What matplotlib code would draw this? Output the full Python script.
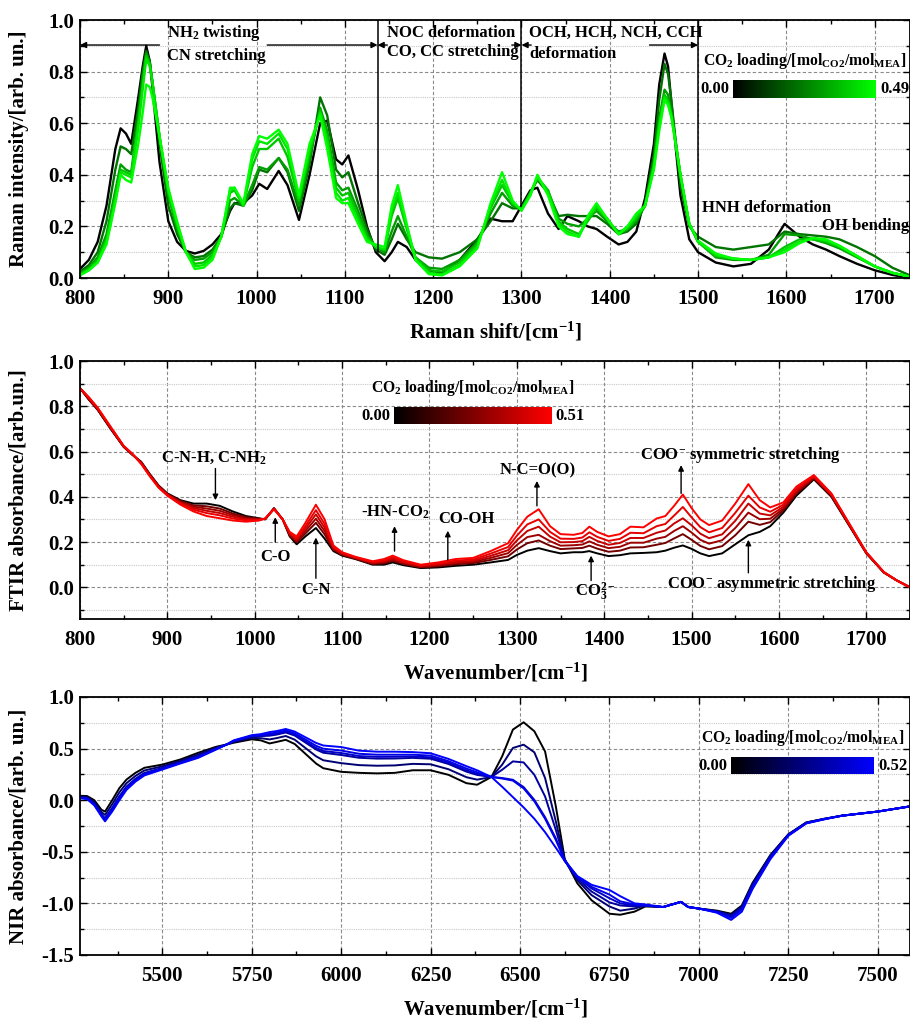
import numpy as np
import matplotlib.pyplot as plt
from matplotlib.colors import LinearSegmentedColormap
from matplotlib.ticker import MultipleLocator, FormatStrFormatter

plt.close("all")
plt.rcParams['font.family'] = ['Liberation Serif', 'DejaVu Serif']
plt.rcParams['font.weight'] = 'bold'
plt.rcParams['axes.labelweight'] = 'bold'
plt.rcParams['mathtext.fontset'] = 'custom'
plt.rcParams['mathtext.rm'] = 'Liberation Serif:bold'
plt.rcParams['mathtext.it'] = 'Liberation Serif:bold'
plt.rcParams['mathtext.bf'] = 'Liberation Serif:bold'
plt.rcParams['mathtext.default'] = 'rm'
plt.rcParams['axes.unicode_minus'] = False

# ---------------- Raman (6 spectra, loading 0.00 -> 0.49)
raman_x = [800, 810, 820, 830, 840, 846, 852, 858, 866, 871, 875, 879,
           882, 890, 900, 910, 920, 930, 940, 950, 960, 970,
           975, 985, 995, 1003, 1012, 1025, 1035, 1048, 1060, 1072,
           1080, 1090, 1097, 1104, 1115, 1125, 1135, 1145, 1153, 1160,
           1170, 1180, 1195, 1210, 1230, 1250, 1265, 1278, 1290, 1300,
           1310, 1318, 1330, 1342, 1352, 1365, 1375, 1385, 1397, 1410,
           1420, 1430, 1440, 1450, 1456, 1462, 1466, 1470, 1480, 1490, 1500, 1520,
           1540, 1560, 1580, 1598, 1615, 1630, 1645, 1660, 1680, 1700,
           1720, 1740]
raman_0 = [.035, .07, .14, .28, .50, .58, .56, .52, .70, .82, .90, .84,
           .74, .45, .22, .14, .105, .095, .105, .13, .17, .26,
           .29, .29, .32, .365, .345, .415, .36, .225, .40, .60,
           .61, .46, .44, .475, .34, .20, .10, .065, .10, .14,
           .12, .07, .03, .02, .07, .15, .23, .22, .22, .28,
           .34, .35, .25, .19, .24, .22, .20, .19, .16, .13,
           .14, .18, .31, .52, .75, .87, .82, .67, .32, .15, .10, .06,
           .045, .055, .11, .21, .16, .13, .11, .085, .055, .03,
           .012, .0]
raman_1 = [.025, .05, .10, .22, .42, .51, .50, .48, .66, .80, .88, .84,
           .76, .52, .28, .17, .10, .08, .085, .11, .16, .27,
           .29, .28, .34, .42, .41, .465, .41, .26, .44, .70,
           .63, .42, .39, .41, .29, .19, .11, .09, .15, .21,
           .15, .10, .08, .075, .10, .15, .22, .29, .27, .27,
           .33, .38, .33, .24, .245, .24, .24, .24, .21, .17,
           .18, .21, .29, .48, .69, .83, .79, .68, .36, .20, .16, .12,
           .11, .12, .13, .18, .17, .165, .16, .15, .12, .085,
           .04, .01]
raman_2 = [.02, .04, .08, .17, .34, .44, .42, .41, .62, .77, .87, .83,
           .76, .55, .32, .19, .10, .07, .075, .10, .16, .30,
           .31, .28, .36, .43, .42, .465, .42, .28, .46, .66,
           .57, .37, .34, .35, .26, .17, .12, .10, .18, .24,
           .16, .08, .04, .035, .07, .14, .25, .33, .28, .27,
           .33, .385, .34, .23, .21, .20, .23, .26, .22, .18,
           .19, .22, .28, .45, .62, .73, .71, .64, .40, .21, .14, .08,
           .07, .07, .09, .17, .165, .15, .135, .115, .08, .045,
           .02, .005]
raman_3 = [.015, .035, .07, .15, .32, .42, .41, .40, .60, .75, .86, .83,
           .76, .55, .33, .20, .10, .055, .06, .09, .16, .33,
           .34, .28, .43, .50, .50, .54, .47, .30, .48, .65,
           .55, .35, .32, .33, .24, .16, .12, .11, .24, .31,
           .19, .08, .03, .025, .06, .13, .27, .36, .29, .265,
           .33, .39, .34, .22, .19, .17, .22, .27, .23, .17,
           .19, .23, .28, .44, .60, .71, .69, .63, .40, .21, .14, .085,
           .075, .07, .08, .12, .15, .15, .14, .12, .085, .045,
           .02, .005]
raman_4 = [.012, .03, .06, .14, .30, .41, .40, .39, .58, .73, .85, .82,
           .76, .55, .34, .21, .10, .045, .05, .08, .16, .34,
           .35, .28, .46, .53, .52, .56, .50, .31, .50, .64,
           .53, .33, .30, .31, .22, .15, .12, .11, .26, .33,
           .20, .07, .02, .015, .05, .12, .28, .38, .29, .265,
           .32, .395, .33, .21, .18, .16, .23, .28, .23, .17,
           .20, .24, .28, .43, .59, .70, .68, .62, .40, .21, .14, .09,
           .075, .07, .08, .11, .14, .155, .145, .125, .085, .045,
           .02, .005]
raman_5 = [.01, .03, .06, .13, .29, .40, .38, .37, .52, .64, .75, .74,
           .70, .55, .35, .22, .10, .035, .04, .07, .16, .35,
           .35, .29, .48, .55, .54, .575, .52, .32, .52, .63,
           .50, .31, .29, .29, .21, .14, .13, .12, .28, .36,
           .21, .07, .015, .01, .045, .115, .29, .41, .30, .26,
           .32, .40, .32, .20, .17, .16, .24, .29, .23, .17,
           .20, .25, .28, .42, .57, .69, .67, .62, .40, .21, .145, .095,
           .075, .07, .08, .10, .135, .155, .15, .125, .085, .045,
           .02, .005]

# ---------------- FTIR (6 spectra, loading 0.00 -> 0.51)
ftir_x = [800, 810, 820, 835, 850, 860, 870, 880, 890, 900,
          915, 930, 945, 960, 975, 990, 1005, 1012, 1022, 1032,
          1040, 1048, 1058, 1070, 1080, 1090, 1100, 1115, 1135, 1148,
          1158, 1170, 1190, 1210, 1230, 1250, 1270, 1290, 1300, 1312,
          1325, 1338, 1350, 1365, 1375, 1383, 1392, 1405, 1418, 1430,
          1445, 1460, 1470, 1480, 1490, 1500, 1510, 1520, 1535, 1550,
          1565, 1578, 1590, 1605, 1620, 1640, 1660, 1680, 1700, 1720,
          1735, 1750]
ftir_0 = [.88, .83, .785, .70, .62, .585, .555, .50, .45, .415,
          .385, .37, .37, .36, .335, .315, .305, .30, .35, .30,
          .225, .19, .225, .262, .215, .16, .14, .125, .10, .10,
          .11, .098, .085, .088, .095, .10, .11, .121, .143, .162,
          .173, .16, .15, .155, .155, .16, .15, .138, .142, .15,
          .152, .155, .162, .175, .185, .17, .15, .138, .15, .19,
          .23, .245, .27, .33, .405, .477, .40, .275, .15, .065,
          .03, .0]
ftir_1 = [.88, .83, .787, .702, .621, .586, .553, .498, .448, .413,
          .381, .362, .358, .348, .326, .31, .303, .301, .349, .30,
          .229, .198, .238, .285, .234, .166, .143, .127, .103, .106,
          .117, .103, .088, .093, .102, .107, .121, .137, .167, .195,
          .207, .184, .169, .172, .174, .184, .171, .157, .162, .176,
          .177, .188, .196, .216, .235, .21, .183, .168, .182, .23,
          .29, .276, .288, .34, .414, .481, .403, .277, .151, .066,
          .03, .0]
ftir_2 = [.88, .835, .789, .704, .622, .587, .551, .496, .446, .411,
          .377, .356, .348, .338, .319, .305, .301, .302, .348, .30,
          .233, .204, .249, .303, .249, .17, .146, .129, .106, .11,
          .122, .107, .091, .097, .107, .112, .13, .151, .187, .222,
          .232, .204, .184, .186, .189, .203, .188, .173, .179, .197,
          .197, .215, .223, .249, .27, .242, .21, .193, .208, .262,
          .33, .301, .303, .348, .421, .485, .406, .279, .152, .066,
          .03, .0]
ftir_3 = [.88, .835, .791, .706, .623, .588, .549, .494, .444, .409,
          .373, .35, .338, .328, .312, .30, .299, .303, .347, .30,
          .237, .21, .26, .322, .264, .175, .149, .131, .109, .115,
          .127, .111, .094, .101, .112, .117, .139, .164, .207, .249,
          .268, .224, .199, .20, .204, .223, .205, .188, .196, .218,
          .218, .241, .251, .282, .305, .274, .237, .217, .234, .294,
          .37, .326, .318, .356, .428, .488, .409, .281, .153, .067,
          .03, .0]
ftir_4 = [.88, .84, .793, .708, .624, .589, .547, .492, .442, .407,
          .37, .343, .328, .318, .304, .296, .297, .304, .346, .30,
          .24, .217, .271, .341, .28, .179, .152, .133, .112, .119,
          .133, .115, .097, .105, .118, .123, .149, .178, .228, .278,
          .30, .245, .215, .214, .22, .243, .223, .205, .214, .241,
          .239, .27, .28, .317, .355, .309, .266, .243, .262, .329,
          .405, .353, .334, .365, .436, .492, .412, .283, .154, .067,
          .03, .0]
ftir_5 = [.88, .84, .795, .71, .625, .59, .545, .49, .44, .405,
          .365, .335, .315, .305, .295, .29, .295, .305, .345, .30,
          .245, .225, .285, .365, .30, .185, .155, .135, .115, .125,
          .14, .12, .10, .11, .125, .13, .16, .195, .253, .312,
          .345, .27, .235, .232, .24, .268, .245, .225, .235, .268,
          .265, .304, .315, .36, .41, .35, .30, .275, .295, .37,
          .456, .385, .353, .375, .445, .496, .415, .285, .155, .068,
          .03, .0]

# ---------------- NIR (6 spectra, loading 0.00 -> 0.52)
nir_x = [5270, 5290, 5310, 5330, 5340, 5360, 5380, 5400, 5425, 5450,
         5500, 5550, 5600, 5650, 5680, 5700, 5750, 5775, 5800, 5820,
         5845, 5870, 5900, 5930, 5950, 6000, 6050, 6100, 6150, 6200,
         6250, 6300, 6350, 6380, 6420, 6450, 6480, 6510, 6540, 6570,
         6600, 6625, 6660, 6700, 6750, 6780, 6820, 6850, 6900, 6950,
         6970, 7000, 7050, 7090, 7120, 7150, 7200, 7250, 7300, 7350,
         7400, 7500, 7590]
nir_0 = [.043, .04, .0, -.093, -.11, .0, .117, .2, .265, .314,
         .345, .394, .459, .517, .54, .557, .59, .58, .55, .565,
         .585, .545, .45, .355, .31, .275, .265, .26, .265, .29,
         .29, .246, .165, .15, .225, .425, .684, .755, .668, .472,
         -.06, -.57, -.805, -.97, -1.10, -1.11, -1.08, -1.03, -1.035, -.985,
         -1.035, -1.05, -1.07, -1.10, -1.02, -.80, -.53, -.33, -.215, -.18,
         -.15, -.11, -.06]
nir_1 = [.035, .03, -.018, -.115, -.143, -.039, .076, .165, .235, .288,
         .328, .38, .442, .508, .54, .565, .604, .601, .589, .602,
         .622, .587, .506, .425, .387, .359, .34, .334, .337, .352,
         .348, .30, .223, .199, .225, .344, .506, .538, .464, .214,
         -.205, -.585, -.775, -.92, -1.03, -1.07, -1.05, -1.02, -1.035, -.985,
         -1.035, -1.05, -1.075, -1.11, -1.03, -.81, -.535, -.332, -.217, -.181,
         -.15, -.11, -.06]
nir_2 = [.027, .02, -.034, -.137, -.175, -.075, .037, .132, .207, .264,
         .312, .367, .426, .499, .54, .573, .617, .621, .625, .636,
         .656, .627, .559, .491, .46, .438, .411, .403, .404, .41,
         .402, .351, .277, .245, .225, .295, .376, .366, .246, .036,
         -.288, -.585, -.76, -.885, -.99, -1.02, -1.03, -1.02, -1.035, -.985,
         -1.035, -1.05, -1.08, -1.12, -1.04, -.82, -.545, -.335, -.219, -.182,
         -.15, -.11, -.06]
nir_3 = [.026, .017, -.038, -.142, -.182, -.084, .028, .124, .2, .258,
         .309, .364, .422, .496, .54, .574, .62, .626, .634, .645,
         .665, .636, .572, .507, .477, .457, .428, .42, .421, .424,
         .415, .363, .29, .256, .225, .215, .198, .127, .003, -.165,
         -.37, -.58, -.745, -.855, -.95, -1.0, -1.02, -1.02, -1.035, -.985,
         -1.035, -1.05, -1.08, -1.13, -1.05, -.835, -.55, -.338, -.221, -.183,
         -.15, -.11, -.06]
nir_4 = [.023, .014, -.043, -.148, -.192, -.095, .016, .114, .192, .25,
         .304, .36, .417, .494, .54, .577, .624, .632, .645, .655,
         .675, .648, .588, .527, .499, .481, .45, .441, .441, .441,
         .432, .378, .307, .27, .225, .21, .19, .115, -.01, -.18,
         -.385, -.585, -.74, -.84, -.915, -.98, -1.01, -1.02, -1.035, -.985,
         -1.035, -1.05, -1.085, -1.14, -1.06, -.845, -.56, -.34, -.223, -.184,
         -.15, -.11, -.06]
nir_5 = [.02, .01, -.05, -.157, -.205, -.11, .0, .1, .18, .24,
         .297, .355, .41, .49, .54, .58, .63, .64, .66, .67,
         .69, .665, .61, .555, .53, .515, .48, .47, .47, .466,
         .455, .40, .33, .29, .225, .13, .03, -.07, -.18, -.31,
         -.46, -.59, -.735, -.82, -.87, -.93, -1.0, -1.01, -1.035, -.985,
         -1.035, -1.05, -1.09, -1.16, -1.08, -.86, -.57, -.345, -.225, -.186,
         -.15, -.11, -.06]

raman_curves = [raman_0, raman_1, raman_2, raman_3, raman_4, raman_5]
ftir_curves = [ftir_0, ftir_1, ftir_2, ftir_3, ftir_4, ftir_5]
nir_curves = [nir_0, nir_1, nir_2, nir_3, nir_4, nir_5]
loading_max = ['0.49', '0.51', '0.52']

W, H = 910, 1021
cmap_g = LinearSegmentedColormap.from_list('g', ['#000000', '#00ff00'])
cmap_r = LinearSegmentedColormap.from_list('r', ['#000000', '#ff0000'])
cmap_b = LinearSegmentedColormap.from_list('b', ['#000000', '#0000ff'])
shade = [0.0, 0.45, 0.62, 0.78, 0.9, 1.0]

fig = plt.figure(figsize=(W / 100, H / 100), dpi=100)


def px_axes(x0, y0, x1, y1):
    # rectangle given in pixels (top-left origin)
    return fig.add_axes([x0 / W, 1 - y1 / H, (x1 - x0) / W, (y1 - y0) / H])


def style(ax, xlim, ylim, xmaj, xmin, ymaj, ymin, xlabel, ylabel):
    ax.set_xlim(*xlim)
    ax.set_ylim(*ylim)
    ax.xaxis.set_major_locator(MultipleLocator(xmaj))
    ax.xaxis.set_minor_locator(MultipleLocator(xmin))
    ax.yaxis.set_major_locator(MultipleLocator(ymaj))
    ax.yaxis.set_minor_locator(MultipleLocator(ymin))
    ax.yaxis.set_major_formatter(FormatStrFormatter('%.1f'))
    ax.tick_params(which='both', direction='in', top=True, right=True, width=1.0)
    ax.tick_params(which='major', length=5, labelsize=15)
    ax.tick_params(which='minor', length=3)
    ax.tick_params(axis='x', pad=8)
    ax.tick_params(axis='y', pad=4)
    ax.grid(which='major', ls=(0, (3, 2)), color='#8a8a8a', lw=0.8)
    ax.yaxis.grid(which='minor', ls=(0, (1, 1)), color='#c8c8c8', lw=0.8)
    ax.set_axisbelow(True)
    for s in ax.spines.values():
        s.set_linewidth(1.3)
    ax.set_xlabel(xlabel, fontsize=15, labelpad=8)
    ax.set_ylabel(ylabel, fontsize=15)
    ax.yaxis.set_label_coords(-0.062, 0.5)


def loading_bar(cmap, x0, y0, x1, y1, hi):
    cax = px_axes(x0, y0, x1, y1)
    cax.imshow(np.linspace(0, 1, 256)[None, :], cmap=cmap, aspect='auto')
    cax.set_axis_off()
    ym = 1 - (y0 + y1) / 2 / H
    fig.text((x0 - 4) / W, ym, '0.00', ha='right', va='center', fontsize=12)
    fig.text((x1 + 4) / W, ym, hi, ha='left', va='center', fontsize=12)
    fig.text((x0 + x1) / 2 / W, 1 - (y0 - 19) / H,
             'CO$_2$ loading/[mol$_{\\mathrm{CO2}}$/mol$_{\\mathrm{MEA}}$]',
             ha='center', va='center', fontsize=11.3)


# ---------- panel 1: Raman
ax1 = px_axes(80, 20, 910, 278)
for i, y in enumerate(raman_curves):
    ax1.plot(raman_x, y, color=cmap_g(shade[i]), lw=1.7)
style(ax1, (800, 1740), (0, 1), 100, 50, 0.2, 0.1,
      'Raman shift/[cm$^{-1}$]', 'Raman intensity/[arb. un.]')

for xv, ybot in [(1137, 0.10), (1300, 0.28), (1500, 0.15)]:
    ax1.plot([xv, xv], [ybot, 1.0], color='k', lw=1.1)
arr = dict(arrowstyle='-|>', color='k', lw=1.0, mutation_scale=9, shrinkA=0, shrinkB=0)
for x_from, x_to in [(890, 800), (1012, 1137), (1148, 1137), (1289, 1300),
                     (1311, 1300), (1445, 1500)]:
    ax1.annotate('', xy=(x_to, 0.903), xytext=(x_from, 0.903), arrowprops=arr)
fs = 12
ax1.text(899, 0.95, 'NH$_2$ twisting', fontsize=fs, va='center')
ax1.text(899, 0.86, 'CN stretching', fontsize=fs, va='center')
ax1.text(1148, 0.95, 'NOC deformation', fontsize=fs, va='center')
ax1.text(1148, 0.875, 'CO, CC stretching', fontsize=fs, va='center')
ax1.text(1309, 0.95, 'OCH, HCH, NCH, CCH', fontsize=fs, va='center')
ax1.text(1309, 0.87, 'deformation', fontsize=fs, va='center')
ax1.text(1505, 0.27, 'HNH deformation', fontsize=fs, va='center')
ax1.text(1640, 0.20, 'OH bending', fontsize=fs, va='center')
loading_bar(cmap_g, 733, 80, 876, 98, loading_max[0])

# ---------- panel 2: FTIR
ax2 = px_axes(80, 361, 910, 619)
for i, y in enumerate(ftir_curves):
    ax2.plot(ftir_x, y, color=cmap_r(shade[i]), lw=1.4)
style(ax2, (800, 1750), (-0.14, 1.0), 100, 50, 0.2, 0.1,
      'Wavenumber/[cm$^{-1}$]', 'FTIR absorbance/[arb.un.]')

arr2 = dict(arrowstyle='-|>', color='k', lw=1.0, mutation_scale=8, shrinkA=0, shrinkB=0)
notes = [  # (text, text x, text y, arrow x, tail y, head y)
    ('C-N-H, C-NH$_2$', 954, 0.572, 955, 0.525, 0.385),
    ('C-O', 1024, 0.135, 1023.5, 0.20, 0.31),
    ('C-N', 1070, -0.012, 1070, 0.04, 0.22),
    ('-HN-CO$_2$', 1161, 0.33, 1160, 0.16, 0.27),
    ('CO-OH', 1242, 0.30, 1221, 0.12, 0.25),
    ('N-C=O(O)', 1324, 0.518, 1323, 0.36, 0.47),
    ('COO$^{-}$ symmetric stretching', 1556, 0.585, 1488, 0.415, 0.54),
    ('CO$_3^{2-}$', 1390, -0.02, 1385, 0.03, 0.14),
    ('COO$^{-}$ asymmetric stretching', 1592, 0.015, 1565, 0.064, 0.21),
]
for txt, tx, ty, ax_, y_tail, y_head in notes:
    ax2.text(tx, ty, txt, fontsize=fs, ha='center', va='center')
    ax2.annotate('', xy=(ax_, y_head), xytext=(ax_, y_tail), arrowprops=arr2)
loading_bar(cmap_r, 394, 407, 551, 424, loading_max[1])

# ---------- panel 3: NIR
ax3 = px_axes(80, 697, 910, 955)
for i, y in enumerate(nir_curves):
    ax3.plot(nir_x, y, color=cmap_b(shade[i]), lw=1.4)
style(ax3, (5270, 7590), (-1.5, 1.0), 250, 125, 0.5, 0.25,
      'Wavenumber/[cm$^{-1}$]', 'NIR absorbance/[arb. un.]')
loading_bar(cmap_b, 731, 757, 874, 774, loading_max[2])

fig.savefig('out.png', dpi=100)
